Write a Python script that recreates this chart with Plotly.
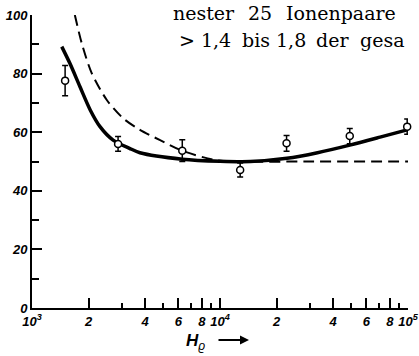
import plotly.graph_objects as go

# Measured points with error bars
pt_x = [1500, 2870, 6300, 12800, 22600, 49000, 99000]
pt_y = [77.6, 56.0, 53.7, 47.1, 56.2, 58.7, 61.9]
pt_err = [5.2, 2.5, 3.7, 2.4, 2.7, 2.6, 2.6]

# Solid curve
solid_x = [1440, 1590, 1800, 2040, 2300, 2700, 3300, 3750, 6300, 10000, 14500, 22700, 33000, 49000, 71000, 99000]
solid_y = [89.2, 83.5, 75.5, 67.6, 61.9, 57.3, 54.5, 53.0, 50.8, 50.1, 50.0, 51.1, 53.0, 55.6, 58.3, 60.8]

# Dashed curve
dash_x = [1690, 1840, 2080, 2500, 3060, 3750, 4800, 6280, 9400, 12000, 30000, 100000]
dash_y = [100.0, 90.3, 80.1, 71.0, 64.7, 60.8, 57.3, 53.7, 50.5, 50.0, 50.0, 50.0]

# Axis ticks
x_major = [1000, 2000, 4000, 6000, 8000, 10000, 20000, 40000, 60000, 80000, 100000]
x_major_text = ["10<sup>3</sup>", "2", "4", "6", "8", "10<sup>4</sup>", "2", "4", "6", "8", "10<sup>5</sup>"]
x_minor = [3000, 5000, 7000, 9000, 30000, 50000, 70000, 90000]
y_major = [0, 20, 40, 60, 80, 100]
y_minor = [10, 30, 50, 70, 90]

# Book text fragments
line1_words = ["nester", "25", "Ionenpaare"]
line2_words = ["> 1,4", "bis", "1,8", "der", "gesa"]

fig = go.Figure()
fig.add_trace(go.Scatter(x=solid_x, y=solid_y, mode="lines",
                         line=dict(color="black", width=3.5, shape="spline", smoothing=0.8),
                         showlegend=False, hoverinfo="skip"))
fig.add_trace(go.Scatter(x=dash_x, y=dash_y, mode="lines",
                         line=dict(color="black", width=2, dash="11px,6px", shape="spline", smoothing=0.8),
                         showlegend=False, hoverinfo="skip"))
fig.add_trace(go.Scatter(x=pt_x, y=pt_y, mode="markers",
                         marker=dict(symbol="circle", size=7, color="white",
                                     line=dict(color="black", width=1.5)),
                         error_y=dict(type="data", array=pt_err, color="black", thickness=1.5, width=3),
                         cliponaxis=False, showlegend=False))

tickfont = dict(family="Liberation Sans", size=13, color="black", style="italic", weight="bold")

fig.update_xaxes(type="log", range=[3, 5], showline=True, linecolor="black", linewidth=2,
                 showgrid=False, zeroline=False, automargin=False,
                 tickmode="array", tickvals=x_major, ticktext=x_major_text,
                 ticks="inside", ticklen=10, tickwidth=1.5, tickcolor="black",
                 tickfont=tickfont,
                 minor=dict(tickmode="array", tickvals=x_minor, ticks="inside", ticklen=5,
                            tickwidth=1.5, tickcolor="black"))
fig.update_yaxes(range=[0, 100], showline=True, linecolor="black", linewidth=2,
                 showgrid=False, zeroline=False, automargin=False,
                 tickmode="array", tickvals=y_major,
                 ticks="inside", ticklen=10, tickwidth=1.5, tickcolor="black",
                 tickfont=tickfont,
                 minor=dict(tickmode="array", tickvals=y_minor, ticks="inside", ticklen=7,
                            tickwidth=1.5, tickcolor="black"))

def px_x(p):
    return (p - 32) / 376

def px_y(p):
    return (308 - p) / 293

# Axis title H_rho with arrow
fig.add_annotation(xref="paper", yref="paper", x=px_x(184), y=px_y(342),
                   text="<i><b>H</b></i><sub><i>ϱ</i></sub>", showarrow=False, xanchor="left", yanchor="middle",
                   font=dict(family="Liberation Sans", size=17, color="black"))
fig.add_annotation(xref="paper", yref="paper", x=px_x(249), y=px_y(340),
                   ax=-32, ay=0, text="", showarrow=True, arrowhead=2, arrowsize=1,
                   arrowwidth=1.8, arrowcolor="black")

serif = dict(family="DejaVu Serif", size=19, color="black")
line1_pos = [(237, "right"), (246, "left"), (284, "left")]
line2_pos = [(233, "right"), (240, "left"), (274, "left"), (314, "left"), (358, "left")]
for word, (px, anc) in zip(line1_words, line1_pos):
    fig.add_annotation(xref="paper", yref="paper", x=px_x(px), y=px_y(13),
                       text=word, showarrow=False, xanchor=anc, yanchor="middle", font=serif)
for word, (px, anc) in zip(line2_words, line2_pos):
    fig.add_annotation(xref="paper", yref="paper", x=px_x(px), y=px_y(40),
                       text=word, showarrow=False, xanchor=anc, yanchor="middle", font=serif)

fig.update_layout(width=419, height=356, margin=dict(l=32, r=11, t=15, b=48, autoexpand=False),
                  paper_bgcolor="white", plot_bgcolor="white")
fig.write_html("out.html")
